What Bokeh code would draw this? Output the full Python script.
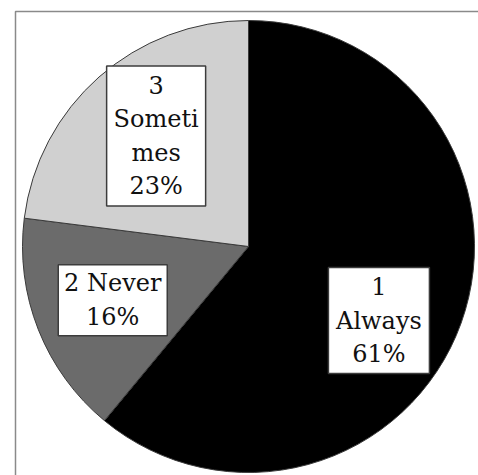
import math
from bokeh.plotting import figure
from bokeh.models import Range1d, ColumnDataSource
from bokeh.core.properties import value
from bokeh.embed import file_html
from bokeh.resources import INLINE

# ---- data ----
categories = ["1 Always", "2 Never", "3 Sometimes"]
percents = [61, 16, 23]
label_texts = ["1\nAlways\n61%", "2 Never\n16%", "3\nSometi\nmes\n23%"]
colors = ["#000000", "#6b6b6b", "#d0d0d0"]

# ---- layout (pixels) ----
W, H = 478, 475
cx, cy, R = 248, H - 246, 226
label_dist = [150, 146, 144]
label_nudge_deg = [9.8, 0.0, 1.5]
box_w = [101, 109, 99]
box_h = [106, 71, 140]

total = float(sum(percents))
starts, ends, lx, ly = [], [], [], []
cum = 0.0
for i, v in enumerate(percents):
    a0 = cum / total * 360.0
    cum += v
    a1 = cum / total * 360.0
    # clockwise from 12 o'clock -> math angles (anticlock from +x)
    starts.append(math.radians(90 - a1))
    ends.append(math.radians(90 - a0))
    mid = (a0 + a1) / 2 + label_nudge_deg[i]
    lx.append(cx + label_dist[i] * math.sin(math.radians(mid)))
    ly.append(cy + label_dist[i] * math.cos(math.radians(mid)))

src = ColumnDataSource(dict(cat=categories, start=starts, end=ends, color=colors,
                            lx=lx, ly=ly, txt=label_texts, bw=box_w, bh=box_h))

p = figure(width=W, height=H, output_backend="svg", toolbar_location=None,
           x_range=Range1d(0, W), y_range=Range1d(0, H), min_border=0,
           background_fill_color="white", border_fill_color="white")
p.xaxis.visible = False
p.yaxis.visible = False
p.grid.visible = False
p.outline_line_color = None

# outer frame
p.quad(left=15, right=W + 10, top=H - 11, bottom=-10, fill_color=None,
       line_color="#8a8a8a", line_width=1.5)

p.wedge(x=cx, y=cy, radius=R, start_angle="start", end_angle="end",
        fill_color="color", line_color="#3a3a3a", line_width=1, source=src)

p.rect(x="lx", y="ly", width="bw", height="bh", fill_color="white",
       line_color="#3c3c3c", line_width=1.5, source=src)

p.text(x="lx", y="ly", text="txt", text_align="center", text_baseline="middle",
       text_font=value("DejaVu Serif"), text_font_size="24px", text_color="#111111",
       text_line_height=1.2, source=src)

open("out.html", "w").write(file_html(p, INLINE))
